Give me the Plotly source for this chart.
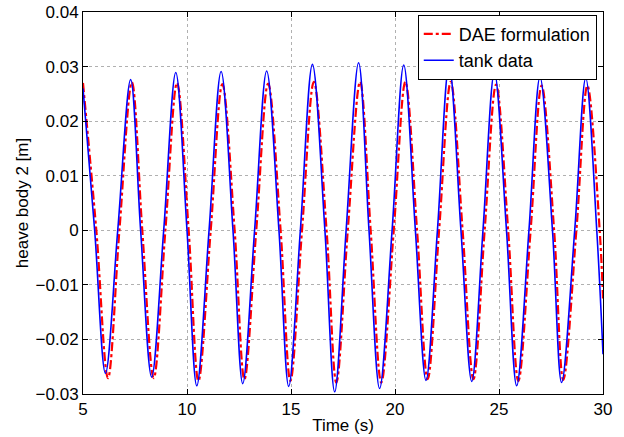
import plotly.graph_objects as go

# tank data (blue): extrema and zero crossings
tank_t = [5.0, 5.56, 6.08, 6.67, 7.29, 7.77, 8.30, 8.88, 9.46, 10.0, 10.47, 11.06,
          11.64, 12.21, 12.68, 13.25, 13.83, 14.42, 14.89, 15.45, 16.03, 16.63, 17.10,
          17.65, 18.25, 18.75, 19.26, 19.86, 20.42, 20.98, 21.49, 22.04, 22.60, 23.17,
          23.69, 24.23, 24.78, 25.36, 25.85, 26.44, 26.97, 27.57, 28.01, 28.64, 29.17,
          29.70, 30.0]
tank_y = [0.0260, 0.0, -0.0262, 0.0, 0.0276, 0.0, -0.0269, 0.0, 0.0289, 0.0, -0.0285, 0.0,
          0.0291, 0.0, -0.0281, 0.0, 0.0292, 0.0, -0.0286, 0.0, 0.0304, 0.0, -0.0296,
          0.0, 0.0307, 0.0, -0.0290, 0.0, 0.0303, 0.0, -0.0275, 0.0, 0.0303, 0.0,
          -0.0277, 0.0, 0.0289, 0.0, -0.0285, 0.0, 0.0281, 0.0, -0.0279, 0.0, 0.0279,
          0.0, -0.0227]

# DAE formulation (red)
dae_t = [5.0, 5.64, 6.20, 6.75, 7.35, 7.85, 8.40, 8.96, 9.52, 10.08, 10.55, 11.14,
         11.70, 12.29, 12.76, 13.33, 13.90, 14.50, 14.97, 15.53, 16.10, 16.71, 17.18,
         17.73, 18.32, 18.83, 19.34, 19.94, 20.50, 21.06, 21.57, 22.12, 22.68, 23.25,
         23.77, 24.31, 24.86, 25.44, 25.93, 26.52, 27.05, 27.65, 28.09, 28.72, 29.25,
         29.84, 30.0]
dae_y = [0.0270, 0.0, -0.0271, 0.0, 0.0271, 0.0, -0.0271, 0.0, 0.0270, 0.0, -0.0276, 0.0,
         0.0268, 0.0, -0.0273, 0.0, 0.0269, 0.0, -0.0276, 0.0, 0.0272, 0.0, -0.0279,
         0.0, 0.0272, 0.0, -0.0279, 0.0, 0.0272, 0.0, -0.0273, 0.0, 0.0272, 0.0,
         -0.0273, 0.0, 0.0267, 0.0, -0.0276, 0.0, 0.0265, 0.0, -0.0274, 0.0, 0.0265,
         0.0, -0.0125]

x_ticks = [5, 10, 15, 20, 25, 30]
y_ticks = [-0.03, -0.02, -0.01, 0, 0.01, 0.02, 0.03, 0.04]
y_ticktext = ["\u22120.03", "\u22120.02", "\u22120.01", "0", "0.01", "0.02", "0.03", "0.04"]

FONT = "Liberation Sans, Arial, Helvetica, sans-serif"

fig = go.Figure()
fig.add_trace(go.Scatter(x=dae_t, y=dae_y, mode="lines", name="DAE formulation",
                         line=dict(color="#ff0000", width=2.2, dash="dashdot", shape="spline")))
fig.add_trace(go.Scatter(x=tank_t, y=tank_y, mode="lines", name="tank data",
                         line=dict(color="#0000ff", width=1.6, shape="spline")))

axis_common = dict(showline=True, linecolor="black", linewidth=1, mirror="allticks",
                   ticks="inside", ticklen=5, tickcolor="black", automargin=False,
                   showgrid=True, gridcolor="#b0b0b0", griddash="dot", gridwidth=1,
                   zeroline=False, tickfont=dict(size=17, color="black", family=FONT))

fig.update_layout(
    width=624, height=437,
    margin=dict(l=83, r=21, t=12, b=43, autoexpand=False),
    paper_bgcolor="white", plot_bgcolor="white",
    font=dict(family=FONT, size=17, color="black"),
    showlegend=True,
    legend=dict(x=0.988, y=0.993, xanchor="right", yanchor="top",
                bgcolor="white", bordercolor="black", borderwidth=1,
                font=dict(size=18, family=FONT), tracegroupgap=0),
    xaxis=dict(range=[5, 30], tickvals=x_ticks, ticktext=[str(v) for v in x_ticks],
               title=dict(text="Time (s)", standoff=0, font=dict(size=17)), **axis_common),
    yaxis=dict(range=[-0.03, 0.04], tickvals=y_ticks, ticktext=y_ticktext,
               title=dict(text="heave body 2 [m]", standoff=2, font=dict(size=17)), **axis_common),
)

fig.write_html("out.html", config={"displayModeBar": False},
               post_script="document.body.style.margin='0';")
